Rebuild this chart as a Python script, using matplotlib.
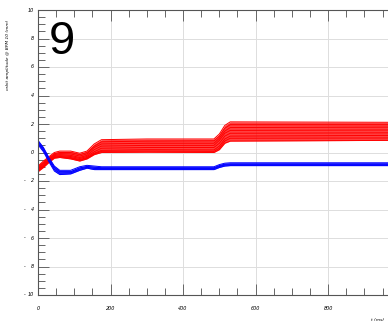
"""Orbit amplitude at BPM 10 for repeated ramps (panel 9)."""

import matplotlib
matplotlib.use("Agg")
import matplotlib.pyplot as plt
from matplotlib.ticker import MultipleLocator, FixedLocator
import numpy as np

t_ms = [0, 15, 30, 45, 60, 90, 115, 135, 155, 175, 300, 485, 500, 515, 530, 965]

# horizontal plane runs (red)
red_runs = [
    [-0.95, -0.60, -0.30, 0.00, 0.10, 0.10, -0.05, 0.10, 0.60, 0.90, 0.95, 0.95, 1.30, 1.90, 2.15, 2.12],
    [-1.00, -0.68, -0.38, -0.08, 0.00, 0.00, -0.15, 0.00, 0.45, 0.75, 0.80, 0.82, 1.15, 1.70, 1.95, 1.95],
    [-1.08, -0.75, -0.45, -0.15, -0.08, -0.10, -0.25, -0.10, 0.35, 0.60, 0.65, 0.65, 1.00, 1.50, 1.75, 1.78],
    [-1.15, -0.82, -0.50, -0.22, -0.15, -0.20, -0.35, -0.20, 0.20, 0.45, 0.50, 0.50, 0.85, 1.35, 1.55, 1.58],
    [-1.20, -0.90, -0.55, -0.28, -0.22, -0.28, -0.42, -0.28, 0.05, 0.30, 0.35, 0.35, 0.65, 1.15, 1.35, 1.38],
    [-1.27, -0.95, -0.62, -0.33, -0.28, -0.35, -0.50, -0.35, -0.05, 0.15, 0.20, 0.18, 0.45, 0.95, 1.15, 1.20],
    [-1.30, -1.00, -0.66, -0.36, -0.30, -0.40, -0.55, -0.40, -0.10, 0.08, 0.10, 0.08, 0.30, 0.80, 1.00, 1.02],
    [-1.35, -1.05, -0.70, -0.40, -0.35, -0.45, -0.60, -0.45, -0.15, 0.00, 0.02, 0.00, 0.20, 0.65, 0.80, 0.85],
]

# vertical plane runs (blue)
blue_runs = [
    [0.85, 0.35, -0.35, -0.95, -1.25, -1.25, -1.00, -0.90, -0.95, -1.00, -1.00, -1.00, -0.85, -0.75, -0.72, -0.72],
    [0.75, 0.25, -0.45, -1.05, -1.35, -1.35, -1.08, -0.98, -1.03, -1.07, -1.07, -1.07, -0.92, -0.82, -0.80, -0.80],
    [0.65, 0.15, -0.55, -1.18, -1.45, -1.42, -1.17, -1.04, -1.12, -1.13, -1.13, -1.13, -0.98, -0.88, -0.86, -0.86],
    [0.55, 0.05, -0.65, -1.30, -1.55, -1.50, -1.25, -1.10, -1.20, -1.20, -1.20, -1.20, -1.05, -0.95, -0.92, -0.92],
]

y_ticks = [-10, -8, -6, -4, -2, 0, 2, 4, 6, 8, 10]
x_ticks = [0, 200, 400, 600, 800]

panel_label = "9"
y_label = "orbit amplitude @ BPM 10 (mm)"
x_label = "t (ms)"

fig = plt.figure(figsize=(3.88, 3.23), dpi=100)
ax = fig.add_axes([38 / 388, 28 / 323, 350 / 388, 285 / 323])

for runs, col in [(red_runs, "#ff0000"), (blue_runs, "#0000ff")]:
    arr = np.array(runs)
    ax.fill_between(t_ms, arr.min(axis=0), arr.max(axis=0), color=col, alpha=0.75, lw=0)
    for r in runs:
        ax.plot(t_ms, r, color=col, lw=0.7)

ax.set_xlim(0, 965)
ax.set_ylim(-10, 10)

ax.xaxis.set_major_locator(FixedLocator(x_ticks))
ax.xaxis.set_minor_locator(MultipleLocator(50))
ax.yaxis.set_major_locator(FixedLocator(y_ticks))
ax.yaxis.set_minor_locator(MultipleLocator(0.5))
ax.grid(True, which="major", color="#dddddd", lw=0.7)
ax.set_axisbelow(True)

for side in ["left", "bottom", "top"]:
    ax.spines[side].set_color("#555555")
    ax.spines[side].set_linewidth(0.8)
ax.spines["right"].set_visible(False)

ax.tick_params(which="both", direction="in", color="#666666", width=0.7,
               top=True, right=False, labelleft=False, labelbottom=False)
ax.tick_params(which="major", length=8)
ax.tick_params(which="minor", length=5)

# tiny italic tick labels; negative values get a detached minus sign
for v in y_ticks:
    ax.annotate(f"{abs(v)}", (0, v), xycoords=("axes fraction", "data"),
                xytext=(-3, 0), textcoords="offset points", ha="right", va="center",
                fontsize=3.5, style="italic")
    if v < 0:
        ax.annotate("-", (0, v), xycoords=("axes fraction", "data"),
                    xytext=(-9, 0), textcoords="offset points", ha="right", va="center",
                    fontsize=3.5)
for v in x_ticks:
    ax.annotate(f"{v}", (v, 0), xycoords=("data", "axes fraction"),
                xytext=(0, -10), textcoords="offset points", ha="center", va="center",
                fontsize=3.5, style="italic")

fig.text(62 / 388, 1 - 42 / 323, panel_label, fontsize=34, family="Liberation Sans",
         ha="center", va="center")
fig.text(8 / 388, 1 - 55 / 323, y_label, fontsize=3.2, rotation=90,
         ha="center", va="center", style="italic")
fig.text(378 / 388, 1 - 320 / 323, x_label, fontsize=3.2, ha="center", va="center",
         style="italic")

fig.savefig("out.png", dpi=100)
